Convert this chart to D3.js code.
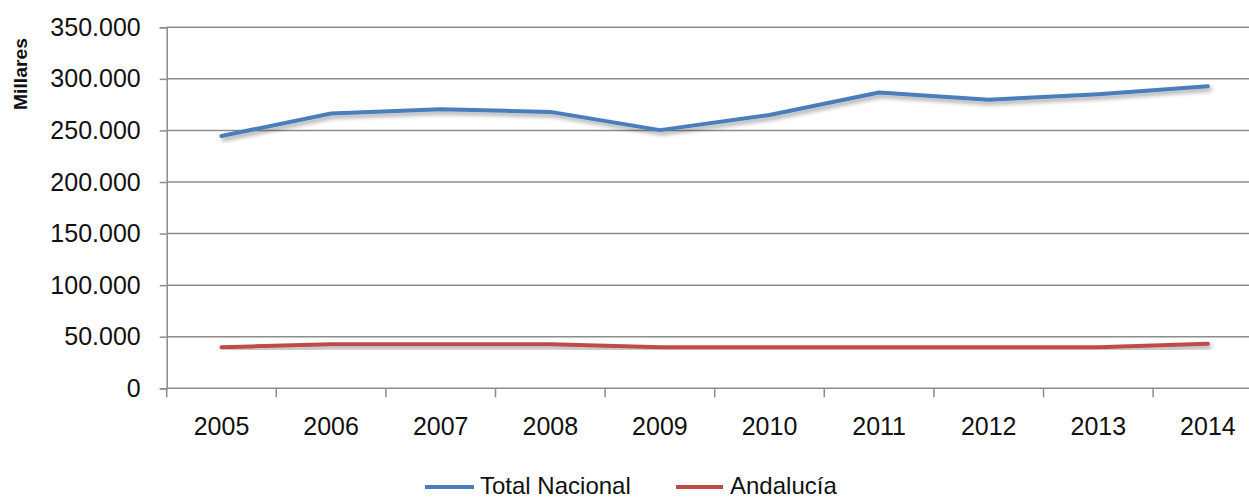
<!DOCTYPE html>
<html>
<head>
<meta charset="utf-8">
<script src="https://cdn.jsdelivr.net/npm/d3@7"></script>
<style>
  html, body { margin: 0; padding: 0; background: #ffffff; }
  svg { display: block; }
  text { font-family: "Liberation Sans", Arial, sans-serif; fill: #111111; }
</style>
</head>
<body>
<svg id="chart" width="1249" height="499"></svg>
<script>
// ---- data ----
const years = ["2005","2006","2007","2008","2009","2010","2011","2012","2013","2014"];
const totalNacional = [244600, 266500, 270500, 268000, 250300, 265000, 286800, 279700, 285200, 292800];
const andalucia = [39800, 42800, 42800, 42800, 39800, 39800, 39800, 39800, 39800, 43200];
const yTicks = [0, 50000, 100000, 150000, 200000, 250000, 300000, 350000];
const seriesNames = ["Total Nacional", "Andalucía"];
const seriesColors = ["#4A7EBB", "#BE4B48"];

// ---- layout ----
const svg = d3.select("#chart");
const plotLeft = 166.7, plotRight = 1262.7, plotTop = 27.3, plotBottom = 388.3;

const x = d3.scaleBand().domain(years).range([plotLeft, plotRight]).padding(0);
const y = d3.scaleLinear().domain([0, 350000]).range([plotBottom, plotTop]);
const loc = d3.formatLocale({decimal: ",", thousands: ".", grouping: [3], currency: ["", "€"]});
const fmt = loc.format(",.0f");

const defs = svg.append("defs");
const f = defs.append("filter").attr("id", "shadow").attr("x", "-5%").attr("y", "-50%").attr("width", "110%").attr("height", "200%");
f.append("feDropShadow").attr("dx", 2).attr("dy", 3).attr("stdDeviation", 2)
  .attr("flood-color", "#000").attr("flood-opacity", 0.35);

// gridlines
svg.append("g").selectAll("line").data(yTicks.filter(d => d > 0)).join("line")
  .attr("x1", plotLeft).attr("x2", 1249)
  .attr("y1", d => y(d)).attr("y2", d => y(d))
  .attr("stroke", "#8c8c8c").attr("stroke-width", 1.5);

// y axis
const yAxis = svg.append("g").attr("transform", `translate(${plotLeft},0)`)
  .call(d3.axisLeft(y).tickValues(yTicks).tickFormat(fmt).tickSize(7).tickPadding(19));
yAxis.select(".domain").attr("stroke", "#8c8c8c").attr("stroke-width", 1.5);
yAxis.selectAll(".tick line").attr("stroke", "#8c8c8c").attr("stroke-width", 1.5);
yAxis.selectAll("text").attr("font-size", "25px").attr("fill", "#111111")
  .attr("font-family", "\"Liberation Sans\", Arial, sans-serif");

// x axis
const xAxis = svg.append("g").attr("transform", `translate(0,${plotBottom})`)
  .call(d3.axisBottom(x).tickSize(0).tickPadding(29));
xAxis.select(".domain").remove();
xAxis.selectAll("text").attr("font-size", "25px").attr("fill", "#111111")
  .attr("font-family", "\"Liberation Sans\", Arial, sans-serif");
svg.append("line").attr("x1", plotLeft).attr("x2", 1249).attr("y1", plotBottom).attr("y2", plotBottom)
  .attr("stroke", "#8c8c8c").attr("stroke-width", 1.5);
const boundaries = years.map(d => x(d)).concat([x(years[years.length - 1]) + x.bandwidth()]);
svg.append("g").selectAll("line").data(boundaries).join("line")
  .attr("x1", d => d).attr("x2", d => d).attr("y1", plotBottom).attr("y2", plotBottom + 9)
  .attr("stroke", "#8c8c8c").attr("stroke-width", 1.5);

// axis title
svg.append("text").attr("transform", "translate(27,74) rotate(-90)")
  .attr("text-anchor", "middle").attr("font-size", "19px").attr("font-weight", "bold")
  .attr("textLength", 72).attr("lengthAdjust", "spacingAndGlyphs")
  .text("Millares");

// lines
const line = d3.line().x((d, i) => x(years[i]) + x.bandwidth() / 2).y(d => y(d));
[totalNacional, andalucia].forEach((s, k) => {
  svg.append("path").datum(s).attr("d", line)
    .attr("fill", "none").attr("stroke", seriesColors[k]).attr("stroke-width", 4)
    .attr("stroke-linejoin", "round").attr("stroke-linecap", "round")
    .attr("filter", "url(#shadow)");
});

// legend
const legendItems = [{x1: 425, x2: 474, tx: 480}, {x1: 676, x2: 723, tx: 730}];
seriesNames.forEach((n, k) => {
  const it = legendItems[k];
  svg.append("line").attr("x1", it.x1).attr("x2", it.x2).attr("y1", 487).attr("y2", 487)
    .attr("stroke", seriesColors[k]).attr("stroke-width", 4);
  svg.append("text").attr("x", it.tx).attr("y", 494).attr("font-size", "24px").text(n);
});
</script>
</body>
</html>
